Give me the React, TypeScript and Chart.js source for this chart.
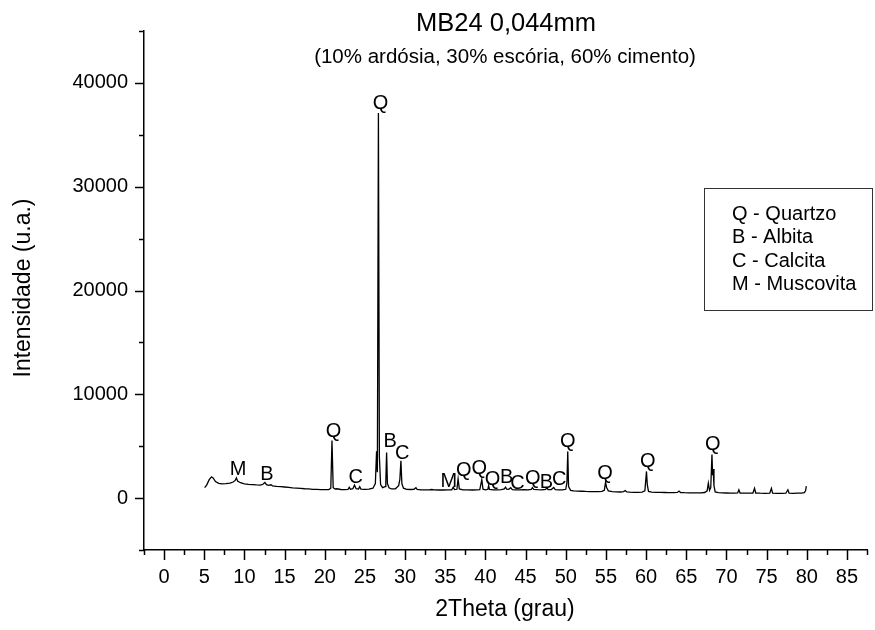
import React, { useEffect, useRef } from "react";
import { Chart, registerables } from "chart.js";

Chart.register(...registerables);

const FONT = "'Liberation Sans', Arial, Helvetica, sans-serif";

const chartTitle = "MB24 0,044mm";
const chartSubtitle = "(10% ardósia, 30% escória, 60% cimento)";
const xAxisTitle = "2Theta (grau)";
const yAxisTitle = "Intensidade (u.a.)";
const legendLines = ["Q - Quartzo", "B - Albita", "C - Calcita", "M - Muscovita"];

// peak identification labels (text, 2theta, counts where the letter sits)
const peakLabelText = ["M", "B", "Q", "C", "Q", "B", "C", "M", "Q", "Q", "Q", "B", "C", "Q", "B", "C", "Q", "Q", "Q", "Q"];
const peakLabelTheta = [9.2, 12.8, 21.1, 23.85, 26.95, 28.15, 29.65, 35.45, 37.3, 39.25, 40.9, 42.65, 44.0, 45.9, 47.6, 49.2, 50.25, 54.9, 60.2, 68.3];
const peakLabelCounts = [2800, 2250, 6420, 2020, 38000, 5460, 4340, 1600, 2660, 2890, 1830, 2020, 1450, 1930, 1500, 1760, 5460, 2400, 3530, 5140];

// diffractogram: [2theta, counts]
const pattern: [number, number][] = [
  [5.05, 1000], [5.3, 1250], [5.6, 1750], [5.9, 2050], [6.1, 1950], [6.4, 1600], [6.8, 1420], [7.2, 1380],
  [7.7, 1400], [8.2, 1450], [8.6, 1550], [8.85, 1700], [9.0, 1950], [9.15, 1650], [9.5, 1480], [10.0, 1380],
  [10.5, 1330], [11.0, 1300], [11.5, 1270], [12.0, 1250], [12.3, 1330], [12.55, 1500], [12.75, 1300], [13.0, 1220],
  [13.3, 1280], [13.5, 1180], [14.0, 1130], [14.5, 1100], [15.0, 1070], [15.5, 1030], [16.0, 990], [16.5, 960],
  [17.0, 930], [17.5, 900], [18.0, 880], [18.5, 850], [19.0, 840], [19.5, 820], [20.0, 810], [20.5, 820],
  [20.75, 950], [20.9, 5550], [21.05, 1000], [21.3, 880], [21.5, 900], [22.0, 830], [22.5, 820], [22.9, 850],
  [23.05, 1050], [23.2, 850], [23.5, 900], [23.7, 1250], [23.9, 900], [24.2, 880], [24.35, 1100], [24.5, 870],
  [25.0, 850], [25.5, 860], [26.0, 950], [26.3, 1400], [26.45, 4500], [26.55, 2500], [26.68, 37100], [26.8, 4000],
  [26.95, 1300], [27.2, 1000], [27.5, 1100], [27.6, 1500], [27.7, 4400], [27.8, 1400], [28.0, 1000], [28.3, 880],
  [28.8, 900], [29.2, 1200], [29.35, 1800], [29.48, 3600], [29.6, 1400], [29.8, 950], [30.2, 850], [30.7, 830],
  [31.1, 850], [31.35, 1000], [31.5, 840], [32.0, 800], [32.5, 790], [33.0, 800], [33.3, 830], [33.6, 790],
  [34.2, 780], [34.8, 780], [35.3, 790], [35.8, 800], [36.0, 1050], [36.15, 820], [36.45, 850], [36.6, 1850],
  [36.75, 880], [37.2, 800], [37.8, 790], [38.4, 780], [38.9, 790], [39.3, 820], [39.55, 1780], [39.7, 860],
  [40.0, 800], [40.3, 850], [40.4, 1200], [40.5, 830], [41.0, 800], [41.5, 790], [42.0, 810], [42.35, 880],
  [42.5, 1050], [42.65, 860], [42.9, 850], [43.15, 1000], [43.35, 820], [43.8, 800], [44.3, 800], [44.8, 820],
  [45.3, 800], [45.7, 850], [45.85, 1000], [46.0, 830], [46.5, 810], [47.0, 800], [47.5, 850], [47.65, 1000],
  [47.8, 820], [48.2, 830], [48.5, 1020], [48.7, 820], [49.1, 800], [49.6, 790], [50.0, 850], [50.15, 1500],
  [50.25, 4500], [50.35, 1100], [50.6, 750], [51.0, 700], [51.5, 680], [52.0, 660], [52.5, 640], [53.0, 630],
  [53.5, 620], [54.0, 620], [54.5, 640], [54.8, 750], [54.95, 1500], [55.1, 1000], [55.3, 700], [55.8, 620],
  [56.3, 600], [56.8, 590], [57.2, 620], [57.4, 720], [57.6, 590], [58.0, 570], [58.5, 560], [59.0, 560],
  [59.5, 580], [59.85, 700], [60.05, 2570], [60.15, 1300], [60.3, 650], [60.7, 580], [61.2, 560], [61.8, 550],
  [62.3, 540], [62.8, 530], [63.4, 530], [63.9, 550], [64.1, 680], [64.3, 540], [64.8, 520], [65.3, 510],
  [65.8, 510], [66.3, 500], [66.8, 510], [67.3, 540], [67.6, 700], [67.75, 1450], [67.9, 750], [68.05, 1000],
  [68.2, 4200], [68.28, 2200], [68.35, 2800], [68.45, 1200], [68.6, 600], [69.0, 520], [69.5, 500], [70.0, 490],
  [70.5, 480], [71.0, 480], [71.4, 500], [71.55, 800], [71.7, 490], [72.2, 480], [72.8, 470], [73.3, 490],
  [73.5, 950], [73.65, 490], [74.2, 470], [74.8, 460], [75.4, 480], [75.6, 950], [75.75, 480], [76.3, 460],
  [76.9, 460], [77.4, 470], [77.65, 800], [77.8, 470], [78.3, 460], [78.8, 470], [79.3, 480], [79.7, 520],
  [79.85, 700], [79.95, 1150],
];

const X_MIN = -2.5;
const X_MAX = 87.5;
const X_MINOR = 2.5;
const Y_MIN = -5000;
const Y_MAX = 45000;
const Y_MINOR = 5000;

const decorPlugin = {
  id: "xrdDecor",
  afterDraw(chart: any) {
    const { ctx, chartArea } = chart;
    const xs = chart.scales.x;
    const ys = chart.scales.y;
    ctx.save();
    ctx.strokeStyle = "#000";
    ctx.lineWidth = 1.5;
    // x ticks
    for (let v = X_MIN; v <= X_MAX + 1e-6; v += X_MINOR) {
      const px = Math.round(xs.getPixelForValue(v)) + 0.5;
      const major = Math.abs(v % 5) < 1e-6;
      ctx.beginPath();
      ctx.moveTo(px, chartArea.bottom);
      ctx.lineTo(px, chartArea.bottom + (major ? 10 : 5));
      ctx.stroke();
    }
    // y ticks
    for (let v = Y_MIN; v <= Y_MAX + 1e-6; v += Y_MINOR) {
      const py = Math.round(ys.getPixelForValue(v)) + 0.5;
      const major = Math.abs(v % 10000) < 1e-6;
      ctx.beginPath();
      ctx.moveTo(chartArea.left, py);
      ctx.lineTo(chartArea.left - (major ? 9 : 5), py);
      ctx.stroke();
    }

    ctx.fillStyle = "#000";
    ctx.textAlign = "center";
    ctx.textBaseline = "middle";

    // peak labels
    ctx.font = `20px ${FONT}`;
    for (let i = 0; i < peakLabelText.length; i++) {
      ctx.fillText(peakLabelText[i], xs.getPixelForValue(peakLabelTheta[i]), ys.getPixelForValue(peakLabelCounts[i]));
    }

    // titles
    ctx.font = `25.5px ${FONT}`;
    ctx.fillText(chartTitle, 506, 24);
    ctx.font = `20.5px ${FONT}`;
    ctx.fillText(chartSubtitle, 505, 57);

    // axis titles
    ctx.font = `23px ${FONT}`;
    ctx.fillText(xAxisTitle, 505, 610);
    ctx.save();
    ctx.translate(24, 288);
    ctx.rotate(-Math.PI / 2);
    ctx.fillText(yAxisTitle, 0, 0);
    ctx.restore();

    // legend box
    ctx.strokeStyle = "#333";
    ctx.lineWidth = 1;
    ctx.strokeRect(704.5, 188.5, 168, 122);
    ctx.font = `20px ${FONT}`;
    ctx.textAlign = "left";
    legendLines.forEach((t, i) => ctx.fillText(t, 732, 214 + i * 23.5));
    ctx.restore();
  },
};

export default function App() {
  const ref = useRef<HTMLCanvasElement | null>(null);
  useEffect(() => {
    if (!ref.current) return;
    const chart = new Chart(ref.current, {
      type: "line",
      data: {
        datasets: [
          {
            data: pattern.map(([x, y]) => ({ x, y })),
            borderColor: "#000",
            borderWidth: 1.3,
            pointRadius: 0,
            fill: false,
            tension: 0,
          },
        ],
      },
      options: {
        animation: false,
        responsive: false,
        devicePixelRatio: 1,
        layout: { padding: { top: 31, right: 8, left: 0, bottom: 0 } },
        plugins: { legend: { display: false }, tooltip: { enabled: false }, title: { display: false } },
        scales: {
          x: {
            type: "linear",
            min: X_MIN,
            max: X_MAX,
            grid: { display: false, drawTicks: false },
            border: { display: true, color: "#000", width: 1.5 },
            ticks: {
              stepSize: X_MINOR,
              autoSkip: false,
              maxRotation: 0,
              padding: 15,
              color: "#000",
              font: { family: FONT, size: 20 },
              callback: (v: any) => (Math.abs(Number(v) % 5) < 1e-6 ? String(v) : ""),
            },
            afterFit: (s: any) => {
              s.height = 80;
              s.paddingLeft = 0;
              s.paddingRight = 0;
            },
          },
          y: {
            type: "linear",
            min: Y_MIN,
            max: Y_MAX,
            grid: { display: false, drawTicks: false },
            border: { display: true, color: "#000", width: 1.5 },
            ticks: {
              stepSize: Y_MINOR,
              autoSkip: false,
              padding: 16,
              color: "#000",
              font: { family: FONT, size: 20 },
              callback: (v: any) => (Math.abs(Number(v) % 10000) < 1e-6 ? String(v) : ""),
            },
            afterFit: (s: any) => {
              s.width = 144;
              s.paddingTop = 0;
              s.paddingBottom = 0;
            },
          },
        },
      },
      plugins: [decorPlugin],
    });
    return () => chart.destroy();
  }, []);
  return (
    <div style={{ position: "absolute", left: 0, top: 0, width: 875, height: 630, background: "#fff" }}>
      <canvas ref={ref} width={875} height={630} style={{ display: "block" }} />
    </div>
  );
}
